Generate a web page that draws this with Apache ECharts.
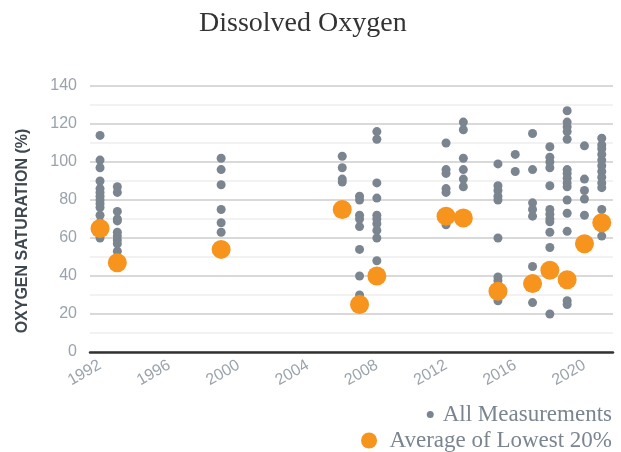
<!DOCTYPE html>
<html>
<head>
<meta charset="utf-8">
<script src="https://cdn.jsdelivr.net/npm/echarts@6/dist/echarts.min.js"></script>
<style>html,body{margin:0;padding:0;background:#fff}#c{width:621px;height:452px}</style>
</head>
<body>
<div id="c"></div>
<script>
const years = [1992, 1993, 1999, 2006, 2007, 2008, 2012, 2013, 2015, 2016, 2017, 2018, 2019, 2020, 2021];
const allMeasurements = [
  [114, 101, 97, 90, 86, 84, 82, 80, 78, 76, 72, 68, 65, 62, 60],
  [87, 84, 74, 70, 69, 63, 61, 59, 57, 53],
  [102, 96, 88, 75, 68, 63],
  [103, 97, 91, 89.5],
  [82, 80, 72, 70, 66, 54, 40, 30],
  [116, 112, 89, 81, 72, 70, 67.5, 64, 60, 48],
  [110, 96, 94, 86, 84, 73, 67],
  [121, 117, 102, 96, 91, 87],
  [99, 87.5, 85, 82, 80, 60, 39.5, 37.5, 27],
  [104, 95],
  [115, 96, 78.5, 75, 71.5, 45, 26],
  [108, 102.5, 100, 97, 87.5, 75, 72.5, 70, 68.5, 63, 55, 20],
  [127, 121, 118.5, 116, 112, 96, 94, 91.5, 89, 87, 80, 73, 63.5, 27, 25],
  [108.5, 91, 85, 80.5, 72],
  [112.5, 109, 107, 104, 101, 98, 95, 92, 89, 86.5, 75, 61]
];
const avgYears = [1992, 1993, 1999, 2006, 2007, 2008, 2012, 2013, 2015, 2017, 2018, 2019, 2020, 2021];
const avgLowest20 = [65, 47, 54, 75, 25, 40, 71.5, 70.5, 32, 36, 43, 38, 57, 68];
const xTickLabels = [1992, 1996, 2000, 2004, 2008, 2012, 2016, 2020];

const allData = [];
years.forEach((y, i) => allMeasurements[i].forEach(v => allData.push([y, v])));
const avgData = avgYears.map((y, i) => [y, avgLowest20[i]]);

const chart = echarts.init(document.getElementById('c'));
chart.setOption({
  animation: false,
  title: {
    text: 'Dissolved Oxygen', left: 194, top: 5,
    textStyle: { fontFamily: 'Liberation Serif', fontWeight: 'normal', fontSize: 28, color: '#333' }
  },
  legend: [
    {
      data: ['All Measurements'], right: 9, top: 403, padding: 0, orient: 'vertical',
      icon: 'circle', itemWidth: 15, itemHeight: 7,
      textStyle: { fontFamily: 'Liberation Serif', fontSize: 23, color: '#7b8590' }
    },
    {
      data: ['Average of Lowest 20%'], right: 9, top: 429, padding: 0, orient: 'vertical',
      icon: 'circle', itemWidth: 31, itemHeight: 16,
      textStyle: { fontFamily: 'Liberation Serif', fontSize: 23, color: '#7b8590' }
    }
  ],
  grid: { left: 90, right: 8, top: 86, bottom: 100, containLabel: false },
  xAxis: {
    type: 'value', min: 1991.42, max: 2021.65,
    axisLine: { show: true, lineStyle: { color: '#333', width: 2.5 } },
    axisTick: { show: false },
    splitLine: { show: false },
    axisLabel: {
      customValues: xTickLabels, rotate: 30, margin: 12,
      fontFamily: 'Liberation Sans', fontSize: 16, color: '#9aa2ab',
      formatter: v => String(v)
    }
  },
  yAxis: {
    type: 'value', min: 0, max: 140, interval: 20,
    name: 'OXYGEN SATURATION (%)', nameLocation: 'middle', nameGap: 59,
    nameTextStyle: { fontFamily: 'Liberation Sans', fontWeight: 'bold', fontSize: 16, color: '#3f4750', padding: [0, 24, 0, 0] },
    axisLine: { show: false }, axisTick: { show: false },
    axisLabel: { fontFamily: 'Liberation Sans', fontSize: 16, color: '#9aa2ab', margin: 13 },
    splitLine: { lineStyle: { color: '#ccc', width: 1.5 } },
    minorTick: { show: false, splitNumber: 2 },
    minorSplitLine: { show: true, lineStyle: { color: '#eee', width: 1.5 } }
  },
  series: [
    {
      name: 'All Measurements', type: 'scatter', data: allData, symbolSize: 9,
      itemStyle: { color: '#7b8590', opacity: 1 }
    },
    {
      name: 'Average of Lowest 20%', type: 'scatter', data: avgData, symbolSize: 19,
      itemStyle: { color: '#f7941d', opacity: 1 }, z: 3
    }
  ]
});
</script>
</body>
</html>
